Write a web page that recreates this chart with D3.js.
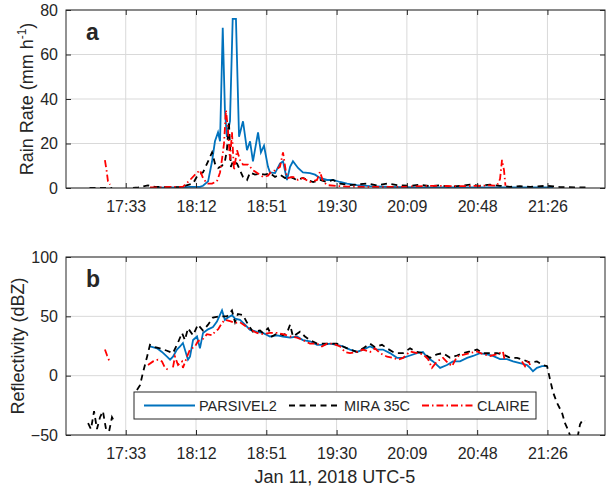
<!DOCTYPE html>
<html>
<head>
<meta charset="utf-8">
<script src="https://cdnjs.cloudflare.com/ajax/libs/d3/7.8.5/d3.min.js"></script>
<style>
  body { margin: 0; background: #fff; }
  text { font-family: "Liberation Sans", Arial, Helvetica, sans-serif; fill: #262626; }
</style>
</head>
<body>
<script>
// times are minutes after 17:00, Jan 11 2018 (UTC-5); null = gap in the record
var tickMinutes = [33, 71.83, 110.67, 149.5, 188.33, 227.17, 266];
var tickLabels = ["17:33", "18:12", "18:51", "19:30", "20:09", "20:48", "21:26"];
var rainTicks = [0, 20, 40, 60, 80];
var reflTicks = [-50, 0, 50, 100];
var seriesNames = ["PARSIVEL2", "MIRA 35C", "CLAIRE"];

// panel a: rain rate (mm/h)
var parsRainT = [46.4,51.9,57.5,63,68.5,74,75.7,78.5,80.7,82.3,84,85.1,86.6,87.8,88.9,90.6,92.1,93.9,95.6,97.8,100,101.7,103.3,106.1,107.7,109.4,111.6,112.7,115.5,118.2,119.9,122.1,123.8,125.4,128.2,130.9,134.8,137.6,140.3,144.2,147.5,151.4,155.3,160.8,168,179,195.6,212.2,228.7,245.3,256.4,269.1];
var parsRainV = [0,0.2,0.3,0.2,0.5,0.5,1,3,12,21,25,21,72,35,23,30,76,76,23,30,17,21,12,25,16,19,9.5,7,6.7,11,12,3.6,9.5,12,9,7,6.7,6,4.5,3.6,3.6,2.7,2,1.3,0.8,0.5,0.3,0.3,0.3,0.3,0.3,0.3];

var miraRainT = [13,16,19,22,25.5,31,37,40,45.3,49.2,51.9,57.5,63,65.7,70.2,72.9,75.7,78.5,80.7,82.3,84,86.2,87.8,88.9,90,91.1,92.2,94.5,96.1,97.8,100,101.7,104.4,107.2,109.9,112.7,115.5,118.2,121,123.8,127.6,130.9,136.5,140.3,144.2,147.5,151.4,156.9,166.3,171.8,177.4,182.9,190.1,195.6,201.1,206.7,212.2,217.7,223.2,228.7,234.3,239.8,245.3,250.8,256.4,265.8,272.9,281.2,287.8];
var miraRainV = [0,0,0,0,0,null,0,0.3,1.2,0.5,0.5,0.3,0.5,1,2,6,7,12,16,11,9,10,12,17,30,9.5,12,11,8,5,3.6,7,6,6.5,6,6.7,5,6,4.5,5,3.6,4.5,2.7,3.6,2.7,3.6,2,1.3,2,1.2,2,1.3,1,1.5,0.8,1.2,0.6,1,1.5,1,1.5,1,0.5,0.8,0.5,1,0.4,0.3,0.3];

var claireRainT = [21.5,22.4,23.2,24.3,35,46.4,51.9,57.5,64.6,68.5,71.3,74,75.7,77.9,80.7,83.4,85.1,86.2,87.3,88.4,89.5,90.6,91.7,92.8,94.5,96.1,97.8,100.6,103.3,106.1,108.8,111.6,112.7,115.5,118.2,119.9,121.6,122.7,125.4,128.2,130.9,134.8,138.7,140.3,142,144.2,149.7,155.3,168,184.5,201.1,217.7,228.7,234.3,238.1,239.8,240.9,242,242.8];
var claireRainV = [12.5,8,3,1.5,null,0.3,0.3,0.5,0.5,3.6,6,8,4.5,2,2,3,7,13,20,35,26,12.6,25,8,17,12.6,10.5,10.5,8,6.5,5,5.5,6.7,8,9.5,16,6.7,4.5,5,3.6,4.5,2.7,3.6,7.3,3,1.3,0.9,0.6,0.5,0.5,1,0.8,1,1.2,1,4,12.6,8,1];

// panel b: reflectivity (dBZ)
var parsReflT = [46.4,50.3,53,55.8,57.5,59.1,61.3,63,64.6,67.4,68.5,70.2,72.4,74,75.7,78.5,81.2,83.4,86.2,87.8,89.5,91.7,93.4,96.1,98.9,101.7,105.5,108.8,112.7,116.6,119.9,123.8,127.6,130.9,134.8,138.7,142,145.9,149.7,153,156.9,160.8,164.1,168,171.8,175.1,179,182.9,186.2,190.1,193.9,197.2,199.5,202.8,206.7,210.5,213.8,217.7,221.6,224.9,228.7,232.6,235.9,239.8,243.7,247,250.8,254.7,256.4,258,260.2,263,265.8];
var parsReflV = [24.6,23,20,16,13.5,16,22,24.6,27.5,13.5,16,30,33,23,36,39,41,45.6,55,47,49,51,48,47,43,38.6,37,36,33,34,33,32,33,30,29,26,26,27,26,24.6,22,20,22,24.6,22,22,19,15,15,17,19,20,15.5,12,6.6,9,12,12,15,16.6,19,18,16.6,14,14,12,10.6,9,6.6,3.7,6.6,8,8];

var miraReflT = [12.2,13.8,15.5,17.1,18.8,20.4,22.1,23.8,25.4,27.1,33,39.2,40.9,42.5,44.8,46.4,49.2,51.9,55.8,59.1,61.9,64.1,65.7,67.4,70.2,72.9,75.7,78.5,81.2,85.1,88.9,91.7,93.4,95,97.8,100.6,103.3,107.2,108.8,111.6,113.8,117.1,119.9,122.1,123.8,125.4,129.3,132,134.8,138.7,142,145.9,149.7,153,156.9,160.8,164.1,168,170.7,174.6,177.4,180.7,182.9,186.2,190.1,193.9,197.2,201.1,205,208.3,212.2,216,219.3,223.2,227.1,230.4,234.3,238.1,241.4,245.3,249.2,252.5,256.4,260.2,263.5,265.8,267.4,269.1,271.3,274,275.7,277.5,280.1,282.9,284,285.6,286.7];
var miraReflV = [-40,-45,-30,-45,-35,-30,-45,-47,-35,-40,null,-12,-8,2.5,16,26,24,23,21,19,28,36,30,40,34,43,38,43,49,50,50,55,45,52,51,43,37,38,36,40,33,36,34,36,43,33,37,33,30,27,27,27,27,24.6,22,20,23,27,24,26,23,20,19,19,23,20,19,15,18,19,15,17,19,20.4,22,19,19,19,18,15,15,13.5,11,12,9,8,-3,-14,-23,-31,-40,-46,-58,-50,-41,-37,-38];

var claireReflT = [21.5,22.7,24.3,34,45.3,48.1,50.8,53,54.7,56.4,57.8,59.1,60.2,61.9,64.1,64.6,67.4,68.5,71.3,72.9,75.7,77.9,80.7,82.3,84,86.2,87.8,90.6,93.4,96.1,98.9,101.7,105.5,108.8,112.7,116.6,119.9,123.8,127.6,130.9,134.8,138.7,141.4,144.2,147.5,151.4,154.1,156.9,160.8,164.1,168,170.7,173.5,177.4,180.7,183.4,186.2,190.1,193.9,197.2,200,202.2,205,208.3,211.1,213.3,216,219.3,223.2,227.1,230.4,234.3,238.1,241.4,242.5,247,251.9,253.6,255.3,256.4];
var claireReflV = [22,17,11,null,9,12,13.5,12,6.6,5,null,7,16,9,12,6.6,18,22,24.6,29,31,35,34,37,39,44.5,47,46,44.5,45,42,39,36,35,36,36,35,33,32,30,27,27,24.6,27,27,24.6,20,19,20,22,20,23,19,16,15,13.5,15,20.4,19,18,14,6.6,12,15,10.6,8,16,17.6,19,20.4,18,16.6,18,20.4,12,null,12,8,13,9];

var colors = ["#0072BD", "#000000", "#FF0000"];
var dashes = [null, "6,4.5", "7,3,1.5,3"];

// draw svg
var svg = d3.select("body").append("svg")
    .attr("width", 607)
    .attr("height", 490);

var x = d3.scaleLinear().domain([0, 297.8]).range([66, 605]);
var yRain = d3.scaleLinear().domain([0, 80]).range([188, 10]);
var yRefl = d3.scaleLinear().domain([-50, 100]).range([435, 257]);

function zip(t, v) {
    return t.map(function(d, i) { return {t: d, v: v[i]}; });
}

function drawPanel(id, y, yTicks, series, letter) {
    var x0 = x.range()[0], x1 = x.range()[1];
    var yb = y.range()[0], yt = y.range()[1];
    var g = svg.append("g");

    // grid
    g.selectAll(".vgrid").data(tickMinutes).enter().append("line")
        .attr("x1", function(d) { return x(d); }).attr("x2", function(d) { return x(d); })
        .attr("y1", yt).attr("y2", yb)
        .attr("stroke", "#d9d9d9").attr("stroke-width", 1);
    g.selectAll(".hgrid").data(yTicks).enter().append("line")
        .attr("x1", x0).attr("x2", x1)
        .attr("y1", function(d) { return y(d); }).attr("y2", function(d) { return y(d); })
        .attr("stroke", "#d9d9d9").attr("stroke-width", 1);

    // series lines, clipped to the axes box
    g.append("clipPath").attr("id", "clip" + id)
        .append("rect").attr("x", x0).attr("y", yt).attr("width", x1 - x0).attr("height", yb - yt);

    var line = d3.line()
        .defined(function(d) { return d.v !== null; })
        .x(function(d) { return x(d.t); })
        .y(function(d) { return y(d.v); });

    var lg = g.append("g").attr("clip-path", "url(#clip" + id + ")");
    series.forEach(function(s, i) {
        lg.append("path")
            .attr("d", line(s))
            .attr("fill", "none")
            .attr("stroke", colors[i])
            .attr("stroke-width", 1.8)
            .attr("stroke-dasharray", dashes[i]);
    });

    // axes, ticks pointing inward
    var bottom = g.append("g").attr("transform", "translate(0," + yb + ")")
        .call(d3.axisBottom(x).tickValues(tickMinutes)
            .tickFormat(function(d, i) { return tickLabels[i]; })
            .tickSizeInner(-5).tickSizeOuter(0).tickPadding(13));
    var top = g.append("g").attr("transform", "translate(0," + yt + ")")
        .call(d3.axisTop(x).tickValues(tickMinutes).tickFormat("")
            .tickSizeInner(-5).tickSizeOuter(0));
    var left = g.append("g").attr("transform", "translate(" + x0 + ",0)")
        .call(d3.axisLeft(y).tickValues(yTicks)
            .tickSizeInner(-5).tickSizeOuter(0).tickPadding(8));
    var right = g.append("g").attr("transform", "translate(" + x1 + ",0)")
        .call(d3.axisRight(y).tickValues(yTicks).tickFormat("")
            .tickSizeInner(-5).tickSizeOuter(0));

    [bottom, top, left, right].forEach(function(a) {
        a.select(".domain").remove();
        a.selectAll("line").attr("stroke", "#262626");
        a.selectAll("text").attr("font-size", 16)
            .attr("font-family", "'Liberation Sans', Arial, Helvetica, sans-serif")
            .attr("fill", "#262626");
    });

    // box
    g.append("rect")
        .attr("x", x0).attr("y", yt).attr("width", x1 - x0).attr("height", yb - yt)
        .attr("fill", "none").attr("stroke", "#262626").attr("stroke-width", 1);

    // panel letter
    g.append("text").attr("x", x0 + 20).attr("y", yt + 30)
        .attr("font-size", 23).attr("font-weight", "bold").attr("fill", "#000")
        .text(letter);
    return g;
}

drawPanel("a", yRain, rainTicks,
    [zip(parsRainT, parsRainV), zip(miraRainT, miraRainV), zip(claireRainT, claireRainV)], "a");
drawPanel("b", yRefl, reflTicks,
    [zip(parsReflT, parsReflV), zip(miraReflT, miraReflV), zip(claireReflT, claireReflV)], "b");

// axis labels
var rl = svg.append("text")
    .attr("transform", "translate(33,99) rotate(-90)")
    .attr("text-anchor", "middle").attr("font-size", 18);
rl.append("tspan").text("Rain Rate (mm h");
rl.append("tspan").attr("dy", -7).attr("font-size", 12).text("-1");
rl.append("tspan").attr("dy", 7).text(")");

svg.append("text")
    .attr("transform", "translate(24,346) rotate(-90)")
    .attr("text-anchor", "middle").attr("font-size", 18)
    .text("Reflectivity (dBZ)");

svg.append("text")
    .attr("x", 335).attr("y", 483)
    .attr("text-anchor", "middle").attr("font-size", 18)
    .text("Jan 11, 2018 UTC-5");

// legend
var legend = svg.append("g");
legend.append("rect")
    .attr("x", 134).attr("y", 392).attr("width", 402).attr("height", 27)
    .attr("fill", "#fff").attr("stroke", "#262626").attr("stroke-width", 1);
var legX = [144, 289, 422];
legend.selectAll(".item").data(seriesNames).enter().append("g")
    .each(function(d, i) {
        var it = d3.select(this);
        it.append("line")
            .attr("x1", legX[i]).attr("x2", legX[i] + 51)
            .attr("y1", 405.5).attr("y2", 405.5)
            .attr("stroke", colors[i]).attr("stroke-width", 1.8)
            .attr("stroke-dasharray", dashes[i]);
        it.append("text")
            .attr("x", legX[i] + 55).attr("y", 405.5).attr("dy", "0.36em")
            .attr("font-size", 14.5).attr("fill", "#000")
            .text(d);
    });
</script>
</body>
</html>
